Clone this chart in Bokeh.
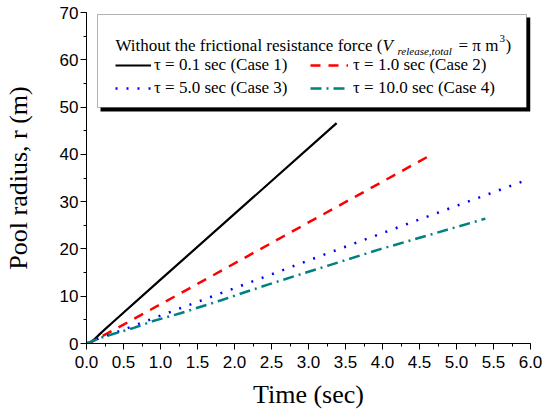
from bokeh.plotting import figure
from bokeh.models import (Legend, LegendItem, Label, BoxAnnotation,
                          SingleIntervalTicker, NumeralTickFormatter, Range1d)
from bokeh.embed import file_html
from bokeh.resources import INLINE

# ---------------- data ----------------
time_case1 = [0.0, 0.05, 0.1, 0.2, 0.37, 1.0, 2.0, 3.38]
radius_case1 = [0.0, 0.2, 0.8, 2.3, 4.7, 13.5, 27.4, 46.6]

time_case2 = [0.0, 0.05, 0.1, 0.5, 1.5, 3.0, 4.6]
radius_case2 = [0.0, 0.2, 0.6, 4.0, 12.6, 25.6, 39.4]

time_case3 = [0.0, 0.12, 0.3, 0.58, 1.0, 2.0, 3.4, 5.9]
radius_case3 = [0.0, 0.8, 1.8, 3.4, 5.9, 11.7, 19.9, 34.3]

time_case4 = [0.0, 0.19, 0.37, 0.64, 0.89, 1.27, 1.81, 2.44, 3.96, 5.39]
radius_case4 = [0.0, 1.2, 2.05, 3.3, 4.7, 6.4, 9.1, 12.4, 19.9, 26.4]

series_labels = ["τ = 0.1 sec (Case 1)", "τ = 1.0 sec (Case 2)",
                 "τ = 5.0 sec (Case 3)", "τ = 10.0 sec (Case 4)"]
x_label = "Time (sec)"
y_label = "Pool radius, r (m)"
title_parts = ["Without the frictional resistance force (", "V",
               "release,total", "= π m", "3", ")"]

# ---------------- layout ----------------
W, H = 546, 412
FL, FR, FT, FB = 86, 530, 12, 343
XMAX, YMAX = 6.0, 70.0


def dx(px):
    return (px - FL) / (FR - FL) * XMAX


def dy(py):
    return (FB - py) / (FB - FT) * YMAX


SERIF = "Liberation Serif"
SANS = "Liberation Sans"

p = figure(width=W, height=H, x_range=Range1d(0, XMAX), y_range=Range1d(0, YMAX),
           output_backend="svg", toolbar_location=None,
           min_border_left=FL, min_border_right=W - FR,
           min_border_top=FT, min_border_bottom=H - FB)
p.outline_line_color = None
p.grid.visible = False
p.background_fill_color = "white"
p.border_fill_color = "white"

p.xaxis.ticker = SingleIntervalTicker(interval=0.5, num_minor_ticks=2)
p.yaxis.ticker = SingleIntervalTicker(interval=10, num_minor_ticks=2)
p.xaxis.formatter = NumeralTickFormatter(format="0.0")
for ax in (p.xaxis, p.yaxis):
    ax.axis_line_color = "black"
    ax.axis_line_width = 1
    ax.major_tick_line_color = "black"
    ax.minor_tick_line_color = "black"
    ax.major_tick_in = 0
    ax.major_tick_out = 6
    ax.minor_tick_in = 0
    ax.minor_tick_out = 3
    ax.major_label_text_font = SANS
    ax.major_label_text_font_size = "17px"
    ax.major_label_text_color = "black"
    ax.axis_label_text_font = SERIF
    ax.axis_label_text_font_size = "26px"
    ax.axis_label_text_font_style = "normal"
    ax.axis_label_text_color = "black"
p.xaxis.major_label_standoff = 6
p.yaxis.major_label_standoff = 2

p.xaxis.axis_label = x_label
p.xaxis.axis_label_standoff = 9
p.yaxis.axis_label = y_label
p.yaxis.axis_label_standoff = 24

# ---------------- lines ----------------
r1 = p.line(time_case1, radius_case1, line_color="black", line_width=2.2)
r2 = p.line(time_case2, radius_case2, line_color="#ff0000", line_width=2.5,
            line_dash="10 8")
r3 = p.line(time_case3, radius_case3, line_color="#0000ff", line_width=2.5,
            line_dash="2 9")
r4 = p.line(time_case4, radius_case4, line_color="#008080", line_width=2.5,
            line_dash="11 5 2 5")

# ---------------- legend box ----------------
p.add_layout(BoxAnnotation(left=dx(100), right=dx(530), top=dy(17), bottom=dy(111),
                           fill_color="black", fill_alpha=1, line_color=None))
p.add_layout(BoxAnnotation(left=dx(97), right=dx(526), top=dy(14), bottom=dy(107),
                           fill_color="white", fill_alpha=1, line_color="black",
                           line_width=1))

# title pieces: (text, x_px, baseline_px, size, style)
title_specs = [
    (title_parts[0], 115, 45, "17px", "normal"),
    (title_parts[1], 382, 45, "17px", "italic"),
    (title_parts[2], 397, 50, "11px", "italic"),
    (title_parts[3], 458, 45, "17px", "normal"),
    (title_parts[4], 499, 38, "11px", "normal"),
    (title_parts[5], 505, 45, "17px", "normal"),
]
for txt, xp, yp, fs, st in title_specs:
    p.add_layout(Label(x=dx(xp), y=dy(yp), text=txt, text_font=SERIF,
                       text_font_size=fs, text_font_style=st, text_align="left",
                       text_baseline="alphabetic", text_color="black"))

common = dict(label_text_font=SERIF, label_text_font_size="17px",
              label_text_color="black", label_height=20, glyph_height=20,
              spacing=3, padding=0, margin=0, border_line_color=None,
              background_fill_alpha=0)
legA = Legend(items=[LegendItem(label=series_labels[0], renderers=[r1]),
                     LegendItem(label=series_labels[2], renderers=[r3])],
              location=(115 - FL, FB - 98), glyph_width=36, label_standoff=3,
              **common)
legB = Legend(items=[LegendItem(label=series_labels[1], renderers=[r2]),
                     LegendItem(label=series_labels[3], renderers=[r4])],
              location=(310 - FL, FB - 98), glyph_width=38, label_standoff=5,
              **common)
p.add_layout(legA)
p.add_layout(legB)

open("out.html", "w").write(file_html(p, INLINE))
